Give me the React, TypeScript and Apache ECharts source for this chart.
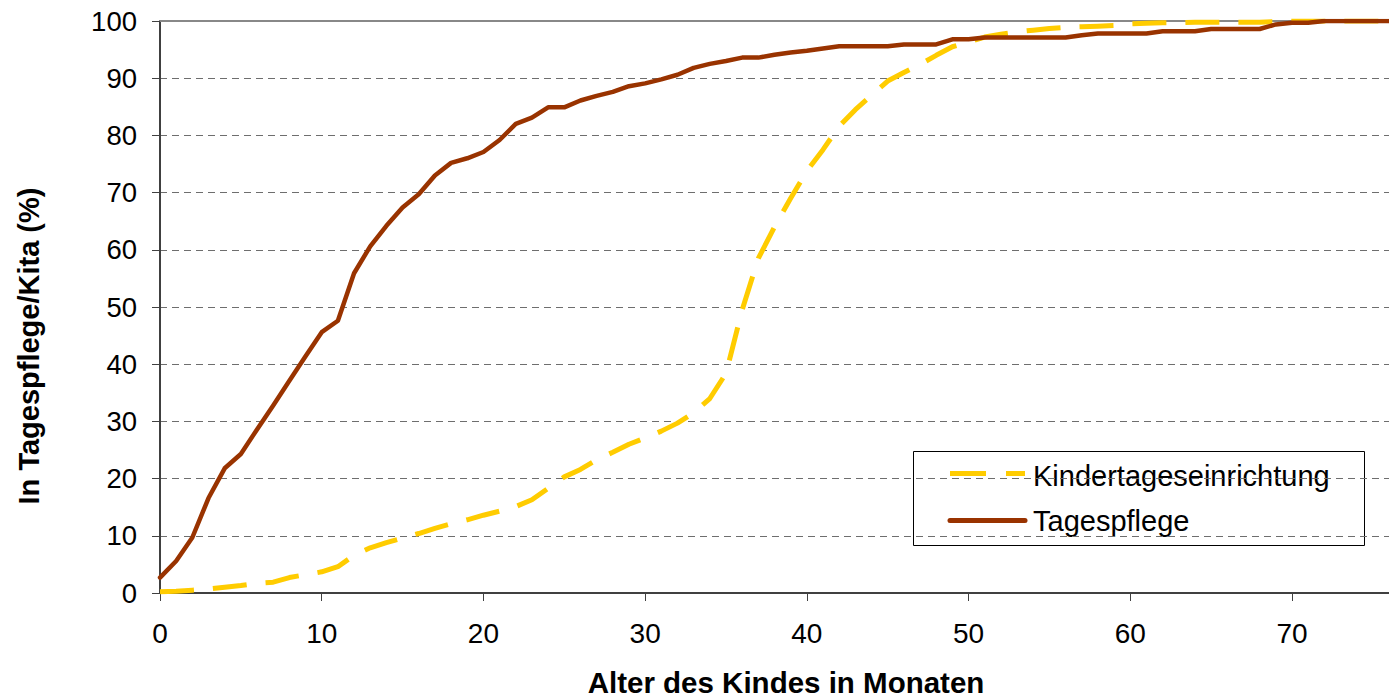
import React, { useEffect, useRef } from "react";
import * as echarts from "echarts";

const months: number[] = Array.from({ length: 77 }, (_, i) => i);

const kitaValues: number[] = [
  0.2, 0.3, 0.5, 0.7, 1.0, 1.3, 1.7, 1.9, 2.7, 3.2,
  3.7, 4.6, 6.6, 7.9, 8.8, 9.6, 10.4, 11.3, 12.1, 12.8,
  13.6, 14.3, 15.1, 16.3, 18.3, 20.3, 21.6, 23.3, 24.6, 26.0,
  27.1, 28.3, 29.7, 31.5, 34.0, 38.4, 49.5, 58.5, 64.0, 69.0,
  73.8, 77.5, 81.6, 84.5, 87.0, 89.5, 91.0, 92.4, 94.0, 95.5,
  96.3, 97.2, 97.7, 98.1, 98.4, 98.7, 98.9, 99.0, 99.1, 99.2,
  99.5, 99.6, 99.7, 99.7, 99.8, 99.8, 99.8, 99.8, 99.8, 99.9,
  100, 100, 100, 100, 100, 100, 100,
];

const tagespflegeValues: number[] = [
  2.7, 5.6, 9.7, 16.6, 21.8, 24.3, 28.6, 32.8, 37.1, 41.4,
  45.6, 47.6, 55.9, 60.6, 64.2, 67.4, 69.7, 73.0, 75.2, 76.0,
  77.1, 79.2, 82.0, 83.1, 84.9, 84.9, 86.1, 86.9, 87.6, 88.6,
  89.1, 89.8, 90.6, 91.8, 92.5, 93.0, 93.6, 93.6, 94.1, 94.5,
  94.8, 95.2, 95.6, 95.6, 95.6, 95.6, 95.9, 95.9, 95.9, 96.8,
  96.8, 97.1, 97.1, 97.1, 97.1, 97.1, 97.1, 97.5, 97.8, 97.8,
  97.8, 97.8, 98.2, 98.2, 98.2, 98.6, 98.6, 98.6, 98.6, 99.4,
  99.7, 99.7, 100, 100, 100, 100, 100,
];

const xTicks: number[] = [0, 10, 20, 30, 40, 50, 60, 70];
const seriesNames: string[] = ["Kindertageseinrichtung", "Tagespflege"];
const seriesColors: string[] = ["#FFCC00", "#993300"];
const xTitle = "Alter des Kindes in Monaten";
const yTitle = "In Tagespflege/Kita (%)";

const FONT = "'Liberation Sans', Arial, sans-serif";

export default function App() {
  const ref = useRef<HTMLDivElement>(null);
  useEffect(() => {
    if (!ref.current) return;
    const chart = echarts.init(ref.current, undefined, { renderer: "svg" });
    chart.setOption({
      animation: false,
      backgroundColor: "#ffffff",
      textStyle: { fontFamily: FONT },
      grid: { left: 160, right: 0, top: 21, bottom: 104, containLabel: false },
      legend: { show: false, data: seriesNames },
      xAxis: [
        {
          type: "value",
          min: 0,
          max: 76,
          interval: 10,
          position: "bottom",
          axisLine: { show: true, lineStyle: { color: "#404040", width: 2 } },
          axisTick: {
            show: true,
            inside: false,
            length: 8,
            customValues: xTicks,
            lineStyle: { color: "#404040", width: 1 },
          },
          axisLabel: {
            show: true,
            customValues: xTicks,
            margin: 26,
            fontSize: 28,
            color: "#000",
            fontFamily: FONT,
          },
          splitLine: { show: false },
        },
        {
          type: "value",
          min: 0,
          max: 76,
          position: "top",
          axisLine: { show: true, onZero: false, lineStyle: { color: "#888888", width: 2 } },
          axisTick: { show: false },
          axisLabel: { show: false },
          splitLine: { show: false },
        },
      ],
      yAxis: {
        type: "value",
        min: 0,
        max: 100,
        interval: 10,
        axisLine: { show: true, lineStyle: { color: "#404040", width: 2 } },
        axisTick: { show: true, inside: false, length: 8, lineStyle: { color: "#404040", width: 1 } },
        axisLabel: { margin: 23, fontSize: 27.5, color: "#000", fontFamily: FONT },
        splitLine: {
          show: true,
          lineStyle: { color: "#6e6e6e", width: 1, type: [7, 5] },
        },
      },
      graphic: [
        {
          type: "text",
          x: 786,
          y: 682,
          style: {
            text: xTitle,
            fontSize: 29.5,
            fontWeight: "bold",
            fontFamily: FONT,
            fill: "#000",
            align: "center",
            verticalAlign: "middle",
          },
        },
        {
          type: "text",
          x: 29,
          y: 346,
          rotation: Math.PI / 2,
          style: {
            text: yTitle,
            fontSize: 29,
            fontWeight: "bold",
            fontFamily: FONT,
            fill: "#000",
            align: "center",
            verticalAlign: "middle",
          },
        },
        {
          type: "group",
          z: 100,
          children: [
            {
              type: "rect",
              shape: { x: 913.5, y: 451.5, width: 451, height: 94 },
              style: { fill: "#ffffff", stroke: "#000000", lineWidth: 1 },
            },
            {
              type: "line",
              shape: { x1: 950, y1: 473.5, x2: 1025, y2: 473.5 },
              style: { stroke: seriesColors[0], lineWidth: 5, lineDash: [36, 20], lineCap: "butt" },
            },
            {
              type: "line",
              shape: { x1: 950, y1: 520.5, x2: 1025, y2: 520.5 },
              style: { stroke: seriesColors[1], lineWidth: 5, lineCap: "round" },
            },
            {
              type: "text",
              x: 1033,
              y: 475.5,
              style: {
                text: seriesNames[0],
                fontSize: 29,
                fontFamily: FONT,
                fill: "#000",
                align: "left",
                verticalAlign: "middle",
              },
            },
            {
              type: "text",
              x: 1033,
              y: 520.5,
              style: {
                text: seriesNames[1],
                fontSize: 29,
                fontFamily: FONT,
                fill: "#000",
                align: "left",
                verticalAlign: "middle",
              },
            },
          ],
        },
      ],
      series: [
        {
          name: seriesNames[0],
          type: "line",
          xAxisIndex: 0,
          data: months.map((m, i) => [m, kitaValues[i]]),
          showSymbol: false,
          symbol: "none",
          lineStyle: { color: seriesColors[0], width: 5, type: [34, 19], cap: "butt" },
          itemStyle: { color: seriesColors[0] },
          z: 2,
        },
        {
          name: seriesNames[1],
          type: "line",
          xAxisIndex: 0,
          data: months.map((m, i) => [m, tagespflegeValues[i]]),
          showSymbol: false,
          symbol: "none",
          lineStyle: { color: seriesColors[1], width: 4.5, cap: "round", join: "round" },
          itemStyle: { color: seriesColors[1] },
          z: 3,
        },
      ],
    });
    return () => chart.dispose();
  }, []);
  return (
    <div
      ref={ref}
      style={{ position: "fixed", left: 0, top: 0, width: 1389, height: 697, background: "#fff" }}
    />
  );
}
